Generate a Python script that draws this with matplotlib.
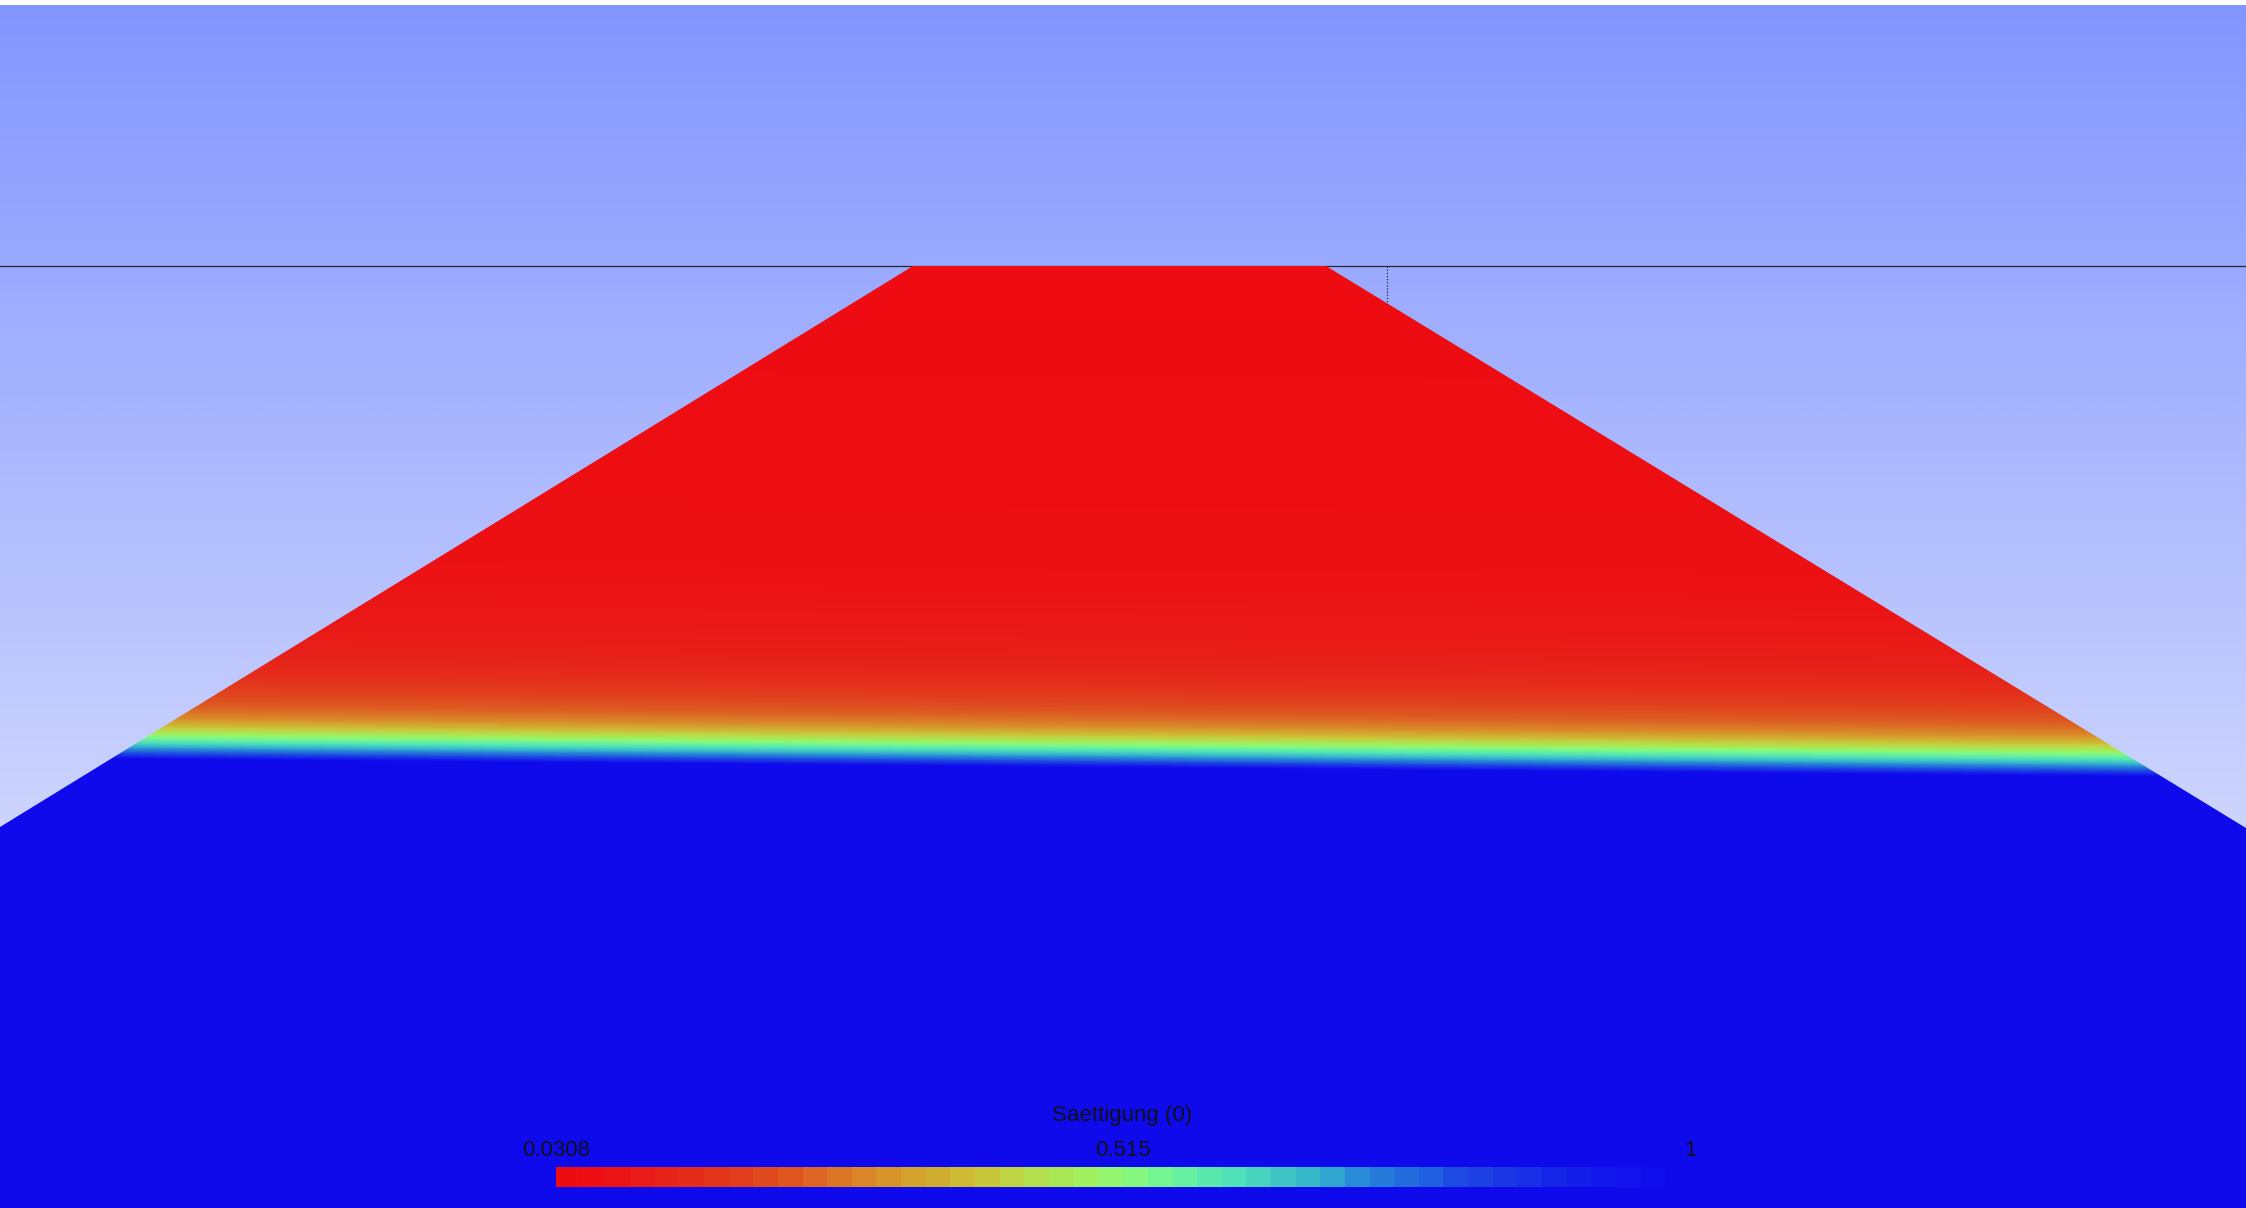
import numpy as np
import matplotlib
matplotlib.use("Agg")
import matplotlib.pyplot as plt
from matplotlib.colors import LinearSegmentedColormap, Normalize
from matplotlib.patches import Polygon
import matplotlib.cm as cm

plt.rcParams['font.family'] = ['Liberation Sans', 'DejaVu Sans']

# ---------------- data ----------------
# dam cross-section (model units, m): toe-left, crest-left, crest-right, toe-right
dam_x = [0.0, 18.26, 26.52, 44.92]
dam_z = [7.62, 18.84, 18.84, 7.60]
crest_z = 18.84
domain_width = 44.92
domain_top = 24.04

# phreatic (fully saturated) surface
phreatic_x = [0.0, 44.92]
phreatic_z = [8.99, 8.60]

# saturation profile vs. height above phreatic surface (m)
height_above = [0.0, 0.06, 0.16, 0.26, 0.36, 0.46, 0.56, 0.70, 0.82, 1.02,
                1.36, 1.76, 2.36, 4.16, 7.36, 10.04]
saturation = [1.0, 0.88, 0.76, 0.675, 0.593, 0.515, 0.443, 0.36, 0.30, 0.244,
              0.19, 0.137, 0.10, 0.06, 0.04, 0.0308]

sat_min, sat_max = 0.0308, 1.0
tick_values = [0.0308, 0.515, 1.0]
tick_labels = ['0.0308', '0.515', '1']
colorbar_title = 'Saettigung (0)'

probe_x = 27.74
probe_depth = 0.76

# ---------------- styles ----------------
anchors = [
    (0.00, (238, 12, 18)), (0.04, (236, 18, 20)), (0.075, (232, 30, 25)),
    (0.128, (228, 50, 28)), (0.164, (225, 65, 30)), (0.20, (222, 85, 32)),
    (0.235, (220, 112, 38)), (0.27, (218, 135, 40)), (0.306, (213, 160, 45)),
    (0.34, (207, 178, 50)), (0.364, (205, 190, 55)), (0.404, (190, 215, 70)),
    (0.43, (175, 225, 80)), (0.467, (160, 240, 95)), (0.50, (140, 248, 120)),
    (0.54, (110, 245, 150)), (0.60, (80, 225, 185)), (0.654, (60, 190, 200)),
    (0.68, (50, 175, 205)), (0.71, (40, 140, 215)), (0.75, (35, 110, 220)),
    (0.78, (30, 95, 225)), (0.80, (30, 75, 225)), (0.83, (28, 60, 228)),
    (0.86, (25, 50, 230)), (0.88, (22, 40, 232)), (0.91, (20, 30, 233)),
    (0.94, (18, 22, 235)), (0.97, (16, 14, 236)), (1.00, (15, 10, 236)),
]
cmap = LinearSegmentedColormap.from_list(
    'sat', [(p, tuple(c / 255 for c in rgb)) for p, rgb in anchors])
bg_cmap = LinearSegmentedColormap.from_list(
    'bg', [(239 / 255, 242 / 255, 252 / 255), (131 / 255, 150 / 255, 255 / 255)])

W, H, DPI = 2246, 1208, 100
fig = plt.figure(figsize=(W / DPI, H / DPI), dpi=DPI, facecolor='white')
ax = fig.add_axes([0, 0, 1, 1])
ax.set_xlim(0, domain_width)
ax.set_ylim(0, domain_width * H / W)
ax.axis('off')

# background sky gradient
grad = np.linspace(0, 1, 600)[:, None]
ax.imshow(grad, extent=[0, domain_width, 0, domain_top], origin='lower',
          aspect='auto', cmap=bg_cmap, zorder=0)

# crest reference line
ax.axhline(crest_z, color='#26262e', lw=0.9, zorder=1)

# saturation field
nx, nz = 1200, 1000
xs = np.linspace(0, domain_width, nx)
zs = np.linspace(0, crest_z, nz)
X, Z = np.meshgrid(xs, zs)
zw = np.interp(X, phreatic_x, phreatic_z)
S = np.interp(Z - zw, height_above, saturation)
norm = Normalize(sat_min, sat_max)
im = ax.imshow(S, extent=[0, domain_width, 0, crest_z], origin='lower',
               aspect='auto', cmap=cmap, norm=norm, interpolation='bilinear',
               zorder=2)
poly_xy = [(dam_x[0], 0)] + list(zip(dam_x, dam_z)) + [(dam_x[-1], 0)]
poly = Polygon(poly_xy, closed=True, facecolor='none', edgecolor='none',
               transform=ax.transData)
ax.add_patch(poly)
im.set_clip_path(poly)

# probe marker
ax.plot([probe_x, probe_x], [crest_z, crest_z - probe_depth],
        ls=(0, (1, 1.5)), color='#202030', lw=0.9, zorder=3)

# colorbar
cax = fig.add_axes([556 / W, (H - 1187) / H, 1134 / W, 20 / H])
sm = cm.ScalarMappable(norm=norm, cmap=cmap.resampled(46))
cb = fig.colorbar(sm, cax=cax, orientation='horizontal')
cb.outline.set_visible(False)
cb.set_ticks(tick_values, labels=tick_labels)
cax.xaxis.set_ticks_position('top')
cax.tick_params(length=0, pad=4.5, labelsize=16, labelcolor='#101018')

fig.text(1122 / W, 1 - 1115 / H, colorbar_title, ha='center', va='center',
         fontsize=16, color='#101018')

fig.savefig('out.png', dpi=DPI, facecolor='white')
